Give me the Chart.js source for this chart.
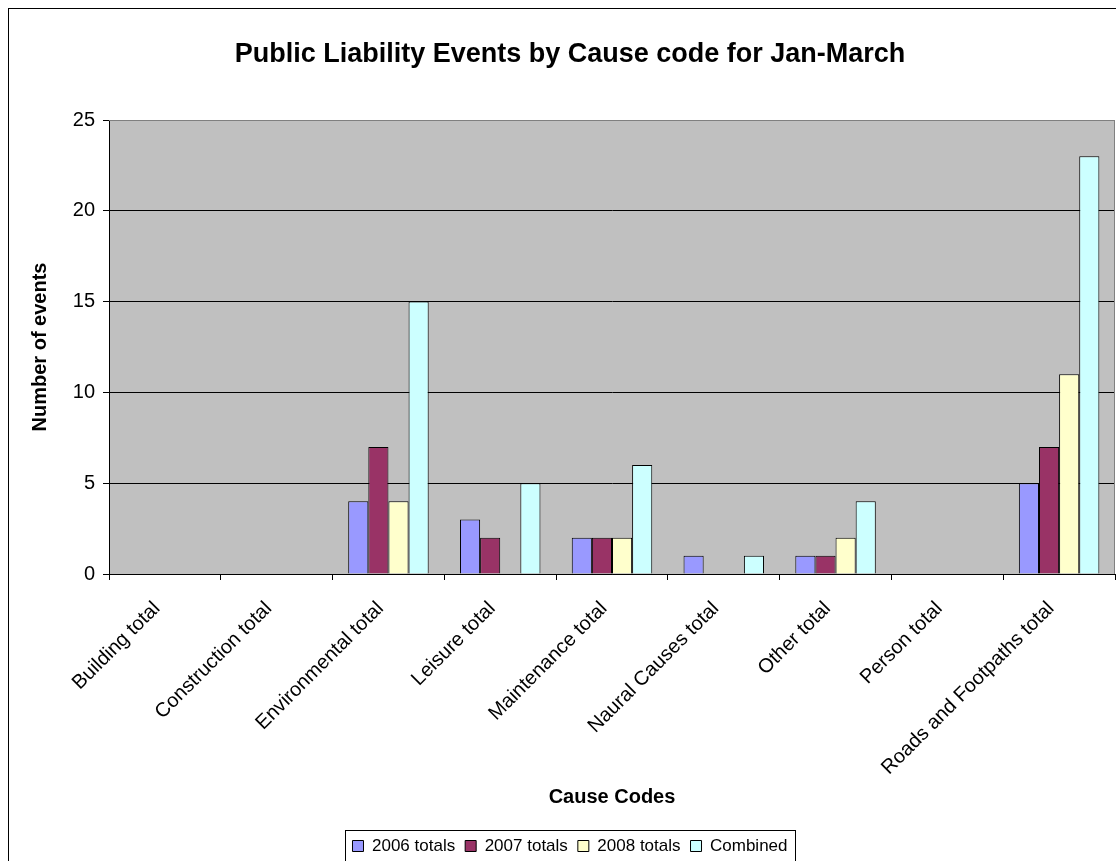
<!DOCTYPE html>
<html>
<head>
<meta charset="utf-8">
<script src="https://cdn.jsdelivr.net/npm/chart.js@4/dist/chart.umd.min.js"></script>
<style>
  html, body { margin: 0; padding: 0; background: #fff; overflow: hidden; }
  #wrap { position: relative; width: 1116px; height: 861px; overflow: hidden; }
  #box { position: absolute; left: 0; top: 0; width: 1140px; height: 880px; }
</style>
</head>
<body>
<div id="wrap"><div id="box"><canvas id="c" width="1140" height="880"></canvas></div></div>
<script>
const categories = ["Building total", "Construction total", "Environmental total", "Leisure total",
  "Maintenance total", "Naural Causes total", "Other total", "Person total", "Roads and Footpaths total"];
const totals2006 = [0, 0, 4, 3, 2, 1, 1, 0, 5];
const totals2007 = [0, 0, 7, 2, 2, 0, 1, 0, 7];
const totals2008 = [0, 0, 4, 0, 2, 0, 2, 0, 11];
const combined   = [0, 0, 15, 5, 6, 1, 4, 0, 23];
const seriesNames = ["2006 totals", "2007 totals", "2008 totals", "Combined"];
const yTicks = [0, 5, 10, 15, 20, 25];

const FONT = "'Liberation Sans', Arial, sans-serif";
const CW = 1140, CH = 880, PAD_LEFT = 25, PAD_BOTTOM = 15.5, LEGEND_H = 37;
const PLOT = { left: 109, top: 120, right: 1115, bottom: 574 };
const TITLE_SIZE = 27, TITLE_TOP = 38;

const bgPlugin = {
  id: 'bg',
  beforeDraw(chart) {
    const { ctx, chartArea: a } = chart;
    ctx.save();
    ctx.fillStyle = '#C0C0C0';
    ctx.fillRect(a.left, a.top, a.right - a.left, a.bottom - a.top);
    ctx.restore();
  },
  afterDatasetsDraw(chart) {
    const { ctx, chartArea: a } = chart;
    ctx.save();
    ctx.strokeStyle = '#808080';
    ctx.lineWidth = 1;
    ctx.beginPath();
    ctx.moveTo(a.left, a.top + 0.5);
    ctx.lineTo(Math.round(a.right) - 0.5, a.top + 0.5);
    ctx.lineTo(Math.round(a.right) - 0.5, a.bottom);
    ctx.stroke();
    ctx.restore();
  },
  afterDraw(chart) {
    const { ctx } = chart;
    ctx.save();
    ctx.strokeStyle = '#000';
    ctx.lineWidth = 1;
    ctx.strokeRect(8.5, 8.5, 1123, 880);
    const hb = chart.legend && chart.legend.legendHitBoxes;
    if (hb && hb.length) {
      const l = Math.round(hb[0].left - 7) + 0.5;
      const last = hb[hb.length - 1];
      const r = Math.round(last.left + last.width + 7) + 0.5;
      const t = Math.round(hb[0].top - 8) + 0.5;
      ctx.strokeStyle = '#000';
      ctx.strokeRect(l, t, r - l, 40);
    }
    ctx.restore();
  }
};

const colors = ['#9999FF', '#993366', '#FFFFCC', '#CCFFFF'];
const seriesData = [totals2006, totals2007, totals2008, combined];

new Chart(document.getElementById('c'), {
  type: 'bar',
  data: {
    labels: categories,
    datasets: seriesNames.map((n, i) => ({
      label: n,
      data: seriesData[i],
      backgroundColor: colors[i],
      borderColor: '#000',
      borderWidth: 1,
      barPercentage: 1,
      categoryPercentage: 0.72
    }))
  },
  options: {
    responsive: false,
    animation: false,
    devicePixelRatio: 1,
    layout: { padding: { left: PAD_LEFT, right: CW - PLOT.right, top: 0, bottom: PAD_BOTTOM } },
    plugins: {
      title: {
        display: true,
        text: 'Public Liability Events by Cause code for Jan-March',
        color: '#000',
        font: { family: FONT, size: TITLE_SIZE, weight: 'bold' },
        padding: { top: TITLE_TOP, bottom: PLOT.top - TITLE_TOP - TITLE_SIZE * 1.2 }
      },
      legend: {
        position: 'bottom',
        labels: {
          color: '#000',
          font: { family: FONT, size: 17 },
          boxWidth: 11,
          boxHeight: 11,
          padding: 10
        }
      },
      tooltip: { enabled: false }
    },
    scales: {
      x: {
        grid: { display: true, drawOnChartArea: false, offset: true, color: '#000', tickLength: 6 },
        border: { display: true, color: '#000', width: 1 },
        ticks: { color: '#000', font: { family: FONT, size: 20 }, minRotation: 45, maxRotation: 45, autoSkip: false, padding: 17, labelOffset: -8 },
        title: { display: true, text: 'Cause Codes', color: '#000', font: { family: FONT, size: 20, weight: 'bold' }, padding: { top: 4, bottom: 18 } },
        afterFit(scale) { scale.height = (CH - PAD_BOTTOM - LEGEND_H) - PLOT.bottom; }
      },
      y: {
        min: 0, max: 25,
        afterBuildTicks(scale) { scale.ticks = yTicks.map(v => ({ value: v })); },
        grid: {
          color: (c) => (c.tick && c.tick.value === 25 ? '#808080' : '#000'),
          tickLength: 6, tickColor: '#000'
        },
        border: { display: true, color: '#000', width: 1 },
        ticks: { color: '#000', font: { family: FONT, size: 20 }, padding: 8 },
        title: { display: true, text: 'Number of events', color: '#000', font: { family: FONT, size: 20, weight: 'bold' }, padding: { top: 3, bottom: 4 } },
        afterFit(scale) { scale.width = PLOT.left - PAD_LEFT; }
      }
    }
  },
  plugins: [bgPlugin]
});
</script>
</body>
</html>
